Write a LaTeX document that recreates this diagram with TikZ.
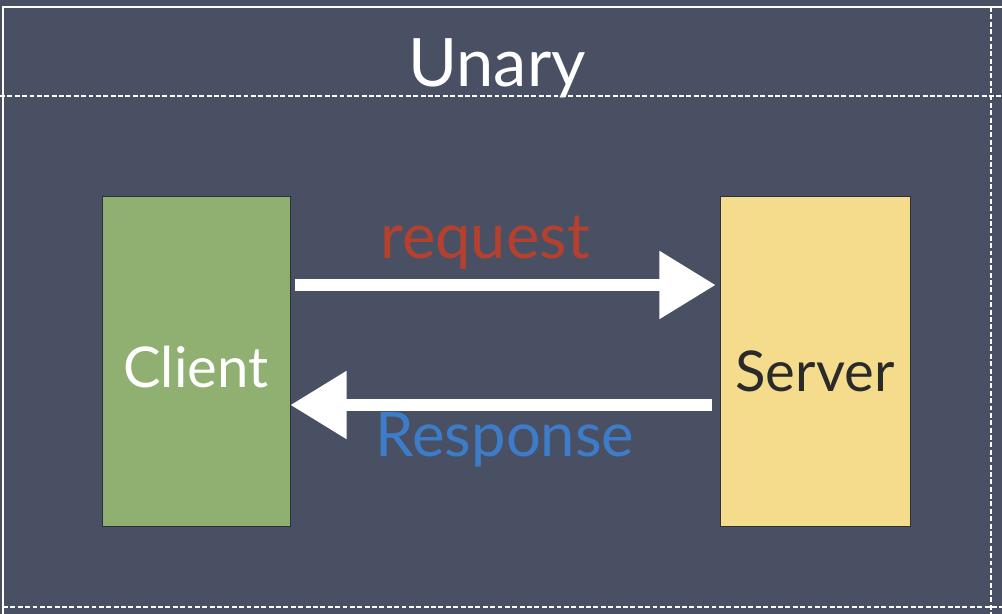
\documentclass[tikz,border=0pt]{standalone}
\usepackage{fontspec}
\setmainfont{Lato}
\usepackage{tikz}
\usetikzlibrary{positioning,arrows.meta}
\definecolor{slate}{HTML}{4A5064}
\definecolor{leaf}{HTML}{8FB070}
\definecolor{butter}{HTML}{F4DC8C}
\definecolor{brick}{HTML}{B5402E}
\definecolor{sky}{HTML}{3D7CC9}
\definecolor{ink}{HTML}{2A2A2A}

\begin{document}
\begin{tikzpicture}[
  box/.style={rectangle, draw=slate!60!black, line width=0.4pt,
              minimum width=3.76cm, minimum height=6.6cm, inner sep=0pt},
  chalk/.style={-{Triangle[length=32pt, width=37pt]}, line width=6.8pt, color=white},
  frame/.style={white, line width=0.7pt},
  cut/.style={white, line width=0.6pt, dash pattern=on 2.8pt off 1.4pt},
  label/.style={font=\fontsize{36}{42}\selectfont}
]

\fill[slate] (0,0) rectangle (20.04,12.28);
\useasboundingbox (0,0) rectangle (20.04,12.28);

% border of the slide
\draw[frame] (0.06,0) -- (0.06,12.14) -- (20.04,12.14);
\draw[cut] (0,10.36) -- (20.04,10.36);
\draw[cut] (19.82,12.14) -- (19.82,0);
\draw[cut] (0.06,0.14) -- (20.04,0.14);

\node[font=\fontsize{38}{44}\selectfont, text=white] (title) at (9.94,10.92) {Unary};

\node[box, fill=leaf] (client) at (3.92,5.06) {};
\node[box, fill=butter, minimum width=3.8cm] (server) at (16.3,5.06) {};
\node[text=white, font=\fontsize{32}{38}\selectfont] (cname) at ([yshift=-0.12cm]client) {Client};
\node[text=ink, font=\fontsize{32}{38}\selectfont] (sname) at ([yshift=-0.2cm]server) {Server};

\draw[chalk] ([xshift=0.1cm, yshift=1.52cm]client.east) -- ([xshift=-0.08cm, yshift=1.52cm]server.west);
\draw[chalk] ([xshift=-0.16cm, yshift=-0.88cm]server.west) -- ([xshift=0cm, yshift=-0.88cm]client.east);

\node[label, text=brick] (req) at (9.7,7.42) {request};
\node[label, text=sky, font=\fontsize{35}{41}\selectfont] (resp) at (10.1,3.48) {Response};
\end{tikzpicture}
\end{document}
